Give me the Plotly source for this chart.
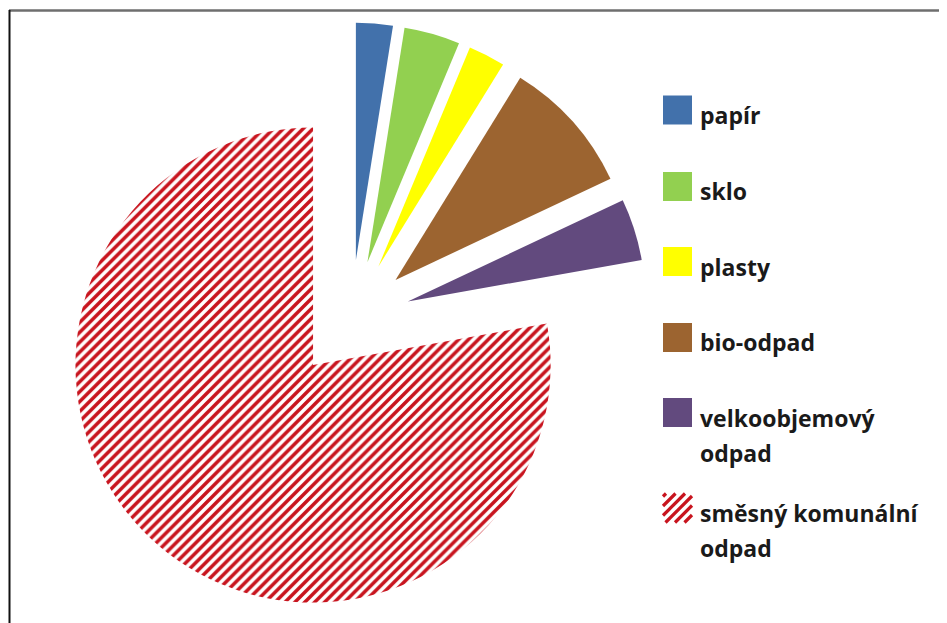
import plotly.graph_objects as go

# ---- data (% of total) ----
labels = ["papír", "sklo", "plasty", "bio-odpad", "velkoobjemový odpad", "směsný komunální odpad"]
values = [2.5, 3.8, 2.5, 9.2, 4.2, 77.8]
legend_text = ["papír", "sklo", "plasty", "bio-odpad", "velkoobjemový<br>odpad", "směsný komunální<br>odpad"]

# ---- styles ----
colors = ["#4271AB", "#92D050", "#FFFF00", "#9C6430", "#624A7E", "#C8141E"]
patterns = ["", "", "", "", "", "/"]
W, H = 947, 623
OFF = 8  # page body margin in the viewer
FONT = "Open Sans"

fig = go.Figure()
fig.add_trace(go.Pie(
    labels=labels,
    values=values,
    sort=False,
    direction="clockwise",
    rotation=0,
    pull=[0.25] * len(values),
    textinfo="none",
    hoverinfo="label+percent",
    showlegend=False,
    marker=dict(
        colors=colors,
        line=dict(width=0),
        pattern=dict(shape=patterns, fgcolor="#C8141E", bgcolor="white",
                     size=7, solidity=0.5, fillmode="replace"),
    ),
    domain=dict(x=[0.0488, 0.6760], y=[0.0233, 0.9767]),
))

def px(x):
    return (x - OFF) / W

def py(y):
    return 1 - (y - OFF) / H

shapes = []
annotations = []

# chart frame (top and left edges)
shapes.append(dict(type="line", xref="paper", yref="paper",
                   x0=px(9), x1=px(960), y0=py(10.5), y1=py(10.5),
                   line=dict(color="#6E6E6E", width=2.5)))
shapes.append(dict(type="line", xref="paper", yref="paper",
                   x0=px(9.5), x1=px(9.5), y0=py(10), y1=py(640),
                   line=dict(color="#111111", width=2)))

# custom legend
sw_x0, sw_size = 663, 29
sw_centers = [110, 186.5, 261.5, 337.5, 412.5, 508]
line_gap = 35
for i, (txt, col, pat) in enumerate(zip(legend_text, colors, patterns)):
    cy = sw_centers[i]
    y0, y1 = cy - sw_size / 2, cy + sw_size / 2
    x0, x1 = sw_x0, sw_x0 + sw_size
    if pat == "":
        shapes.append(dict(type="rect", xref="paper", yref="paper",
                           x0=px(x0), x1=px(x1), y0=py(y1), y1=py(y0),
                           fillcolor=col, line=dict(width=0)))
    else:
        shapes.append(dict(type="rect", xref="paper", yref="paper",
                           x0=px(x0), x1=px(x1), y0=py(y1), y1=py(y0),
                           fillcolor="white", line=dict(width=0)))
        k = x0 + y0 + 3
        while k < x1 + y1:
            xa = max(x0, k - y1)
            xb = min(x1, k - y0)
            if xb > xa:
                shapes.append(dict(type="line", xref="paper", yref="paper",
                                   x0=px(xa), y0=py(k - xa), x1=px(xb), y1=py(k - xb),
                                   line=dict(color=col, width=3.2)))
            k += 9.5
    for j, part in enumerate(txt.split("<br>")):
        annotations.append(dict(
            xref="paper", yref="paper", x=px(698), y=py(cy + 5 + j * line_gap),
            xanchor="left", yanchor="middle", showarrow=False,
            text="<b>" + part + "</b>",
            font=dict(family=FONT, size=23, color="#1A1A1A"),
        ))

fig.update_layout(
    width=W, height=H,
    margin=dict(l=0, r=0, t=0, b=0),
    paper_bgcolor="white",
    plot_bgcolor="white",
    shapes=shapes,
    annotations=annotations,
    showlegend=False,
)

fig.write_html("out.html")
